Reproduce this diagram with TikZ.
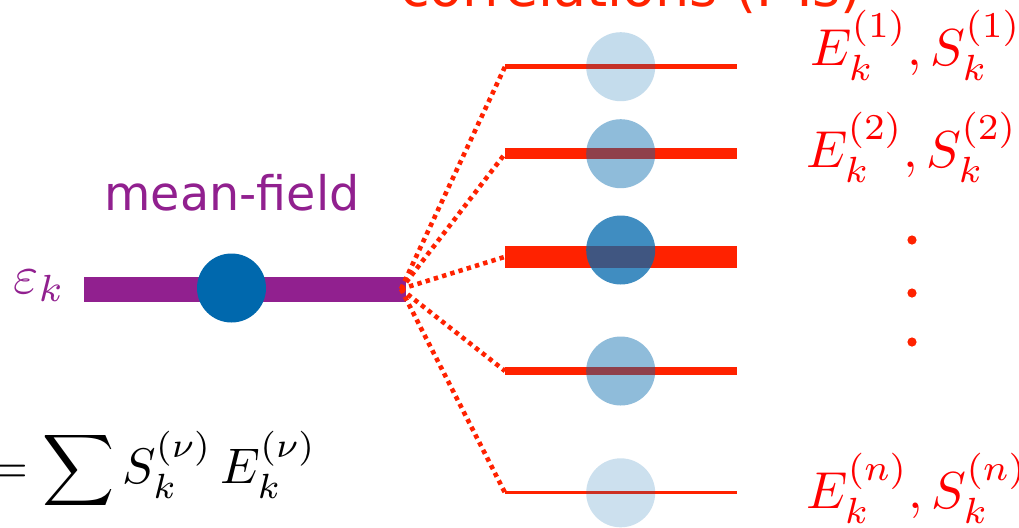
\documentclass[tikz,border=0pt]{standalone}
\usepackage{graphicx}
\usepackage{fontspec}
\newfontfamily\slidefont{DejaVu Sans}
\usetikzlibrary{positioning}
\definecolor{mfpurple}{RGB}{145,32,143}
\definecolor{ptred}{RGB}{255,34,0}
\definecolor{orbblue}{RGB}{0,104,173}
\newcommand{\bigmath}[2]{\scalebox{#1}{$\displaystyle #2$}}

\begin{document}
\begin{tikzpicture}[
    x=0.5pt, y=-0.5pt,
    mfbar/.style={draw=mfpurple, line width=12.5pt},
    level/.style={draw=ptred},
    orbital/.style={circle, fill=orbblue, minimum size=34.5pt, inner sep=0pt},
    link/.style={draw=ptred, line width=2.3pt, dash pattern=on 2.2pt off 2.1pt},
    slidetext/.style={font=\slidefont\fontsize{#1}{#1}\selectfont, inner sep=0pt, anchor=base},
    mathlabel/.style={text=red, inner sep=0pt, anchor=base west},
    vdot/.style={circle, fill=ptred, minimum size=4.6pt, inner sep=0pt}
]
% Frame
\useasboundingbox (0,0) rectangle (1019,527);
\clip (0,0) rectangle (1019,527);
\fill[white] (0,0) rectangle (1019,527);

% Titles
\node (corr) [slidetext=27, text=ptred] at (631,6) {correlations (PTs)};
\node (mftitle) [slidetext=23.8, text=mfpurple] at (232,210) {mean-field};

% Mean-field level
\coordinate (mfw) at (84,289.5);
\coordinate (mfe) at (406,289.5);
\coordinate (fan) at (401,289);
\draw [mfbar] (mfw) -- (mfe);
\node (mf) [orbital] at (231.5,288) {};
\node (eps) [text=mfpurple, inner sep=0pt, anchor=base west] at (13,293) {\bigmath{2.7}{\varepsilon_k}};

% Correlated levels
\coordinate (l1w) at (505,66.7);  \coordinate (l1e) at (737,66.7);
\coordinate (l2w) at (505,153.7); \coordinate (l2e) at (737,153.7);
\coordinate (l3w) at (505,256.8); \coordinate (l3e) at (737,256.8);
\coordinate (l4w) at (505,371);   \coordinate (l4e) at (737,371);
\coordinate (l5w) at (505,492.8); \coordinate (l5e) at (737,492.8);
\draw [level, line width=2.5pt] (l1w) -- (l1e);
\draw [level, line width=5.3pt] (l2w) -- (l2e);
\draw [level, line width=10.8pt] (l3w) -- (l3e);
\draw [level, line width=3.8pt] (l4w) -- (l4e);
\draw [level, line width=1.5pt] (l5w) -- (l5e);

% Orbitals with spectral weight
\node (o1) [orbital, fill opacity=0.23] at (620.7,66.7) {};
\node (o2) [orbital, fill opacity=0.44] at (620.7,153.7) {};
\node (o3) [orbital, fill opacity=0.75] at (620.7,250) {};
\node (o4) [orbital, fill opacity=0.44] at (620.7,371) {};
\node (o5) [orbital, fill opacity=0.2] at (620.7,492.8) {};

% Links from mean-field level
\draw [link] (fan) -- (l1w);
\draw [link] (fan) -- (l2w);
\draw [link] (fan) -- (l3w);
\draw [link] (fan) -- (l4w);
\draw [link] (fan) -- (l5w);

% Labels
\node (e1) [mathlabel] at (810,65) {\bigmath{2.6}{E_k^{(1)}, S_k^{(1)}}};
\node (e2) [mathlabel] at (806,167) {\bigmath{2.6}{E_k^{(2)}, S_k^{(2)}}};
\node (en) [mathlabel] at (806,508) {\bigmath{2.6}{E_k^{(n)}, S_k^{(n)}}};
\node (v1) [vdot] at (912,240) {};
\node (v2) [vdot] at (912,293) {};
\node (v3) [vdot] at (912,342) {};

% Sum rule
\node (sumrule) [inner sep=0pt, anchor=base east] at (317,483)
    {\bigmath{2.5}{= \sum S_k^{(\nu)}\, E_k^{(\nu)}}};
\end{tikzpicture}
\end{document}
